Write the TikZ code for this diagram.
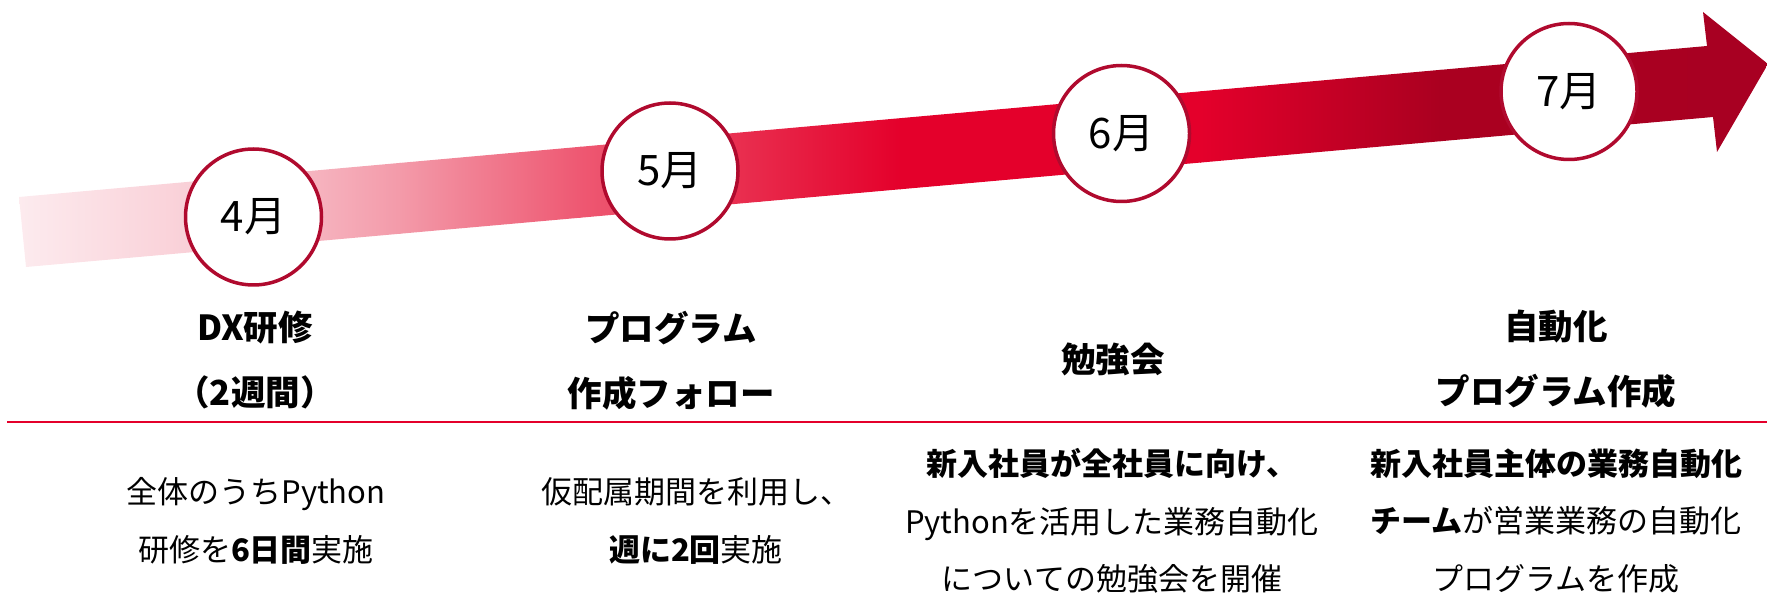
\documentclass[tikz,border=0pt]{standalone}
\usepackage{fontspec}
\setmainfont{Noto Sans CJK JP}
\definecolor{crim}{HTML}{B00A2E}
\definecolor{linered}{HTML}{E4002B}
\definecolor{g0}{HTML}{FDEEF1}
\definecolor{g1}{HTML}{F8C6CF}
\definecolor{g2}{HTML}{F39AA9}
\definecolor{g3}{HTML}{EE5872}
\definecolor{g4}{HTML}{E8284A}
\definecolor{g5}{HTML}{E4002B}
\definecolor{g6}{HTML}{E4002B}
\definecolor{g7}{HTML}{AA0020}
\definecolor{g8}{HTML}{A80022}
\tikzset{
  monthc/.style={circle, draw=crim, line width=3.5pt, fill=white, minimum size=136pt, inner sep=0pt,
    font=\fontsize{42}{44}\selectfont},
  headtxt/.style={align=center, font=\fontsize{34.5}{65}\selectfont\bfseries},
  bodytxt/.style={align=center, font=\fontsize{31}{57.5}\selectfont},
  sepline/.style={draw=linered, line width=2.7pt}
}
\newcommand{\mlow}[1]{\raisebox{-4pt}{#1}}
\begin{document}
\begin{tikzpicture}[x=1pt,y=-1pt]
\useasboundingbox (0,0) rectangle (1767,593);
% arrow
\begin{scope}
\clip (19,197) -- (1707,46) -- (1703,12) -- (1768,64) -- (1717,152) -- (1713,117) -- (26,267) -- cycle;
\shade[left color=g0,right color=g1] (-1,0) rectangle (251,300);
\shade[left color=g1,right color=g2] (250,0) rectangle (401,300);
\shade[left color=g2,right color=g3] (400,0) rectangle (581,300);
\shade[left color=g3,right color=g4] (580,0) rectangle (761,300);
\shade[left color=g4,right color=g5] (760,0) rectangle (901,300);
\shade[left color=g5,right color=g6] (900,0) rectangle (1201,300);
\shade[left color=g6,right color=g7] (1200,0) rectangle (1441,300);
\shade[left color=g7,right color=g8] (1440,0) rectangle (1770,300);
\end{scope}
% month circles
\node[monthc] (m4) at (253.5,217) {\mlow{4月}};
\node[monthc] (m5) at (670,171) {\mlow{5月}};
\node[monthc] (m6) at (1121.5,133.5) {\mlow{6月}};
\node[monthc] (m7) at (1569,91.5) {\mlow{7月}};
% headings
\node[headtxt] (h4) at (255,360.5) {DX研修\\（2週間）};
\node[headtxt] (h5) at (671,360.5) {プログラム\\作成フォロー};
\node[headtxt] (h6) at (1113,359.5) {勉強会};
\node[headtxt] (h7) at (1556,359.5) {自動化\\プログラム作成};
% separator
\coordinate (l1) at (7,422);
\coordinate (l2) at (1767,422);
\draw[sepline] (l1) -- (l2);
% body
\node[bodytxt] (b4) at (256,521) {全体のうちPython\\研修を\textbf{6日間}実施};
\node[bodytxt] (b5) at (696,521) {仮配属期間を利用し、\\\textbf{週に2回}実施};
\node[bodytxt] (b6) at (1112,521) {\textbf{新入社員が全社員に向け、}\\Pythonを活用した業務自動化\\についての勉強会を開催};
\node[bodytxt] (b7) at (1556,521) {\textbf{新入社員主体の業務自動化}\\\textbf{チーム}が営業業務の自動化\\プログラムを作成};
\end{tikzpicture}
\end{document}
